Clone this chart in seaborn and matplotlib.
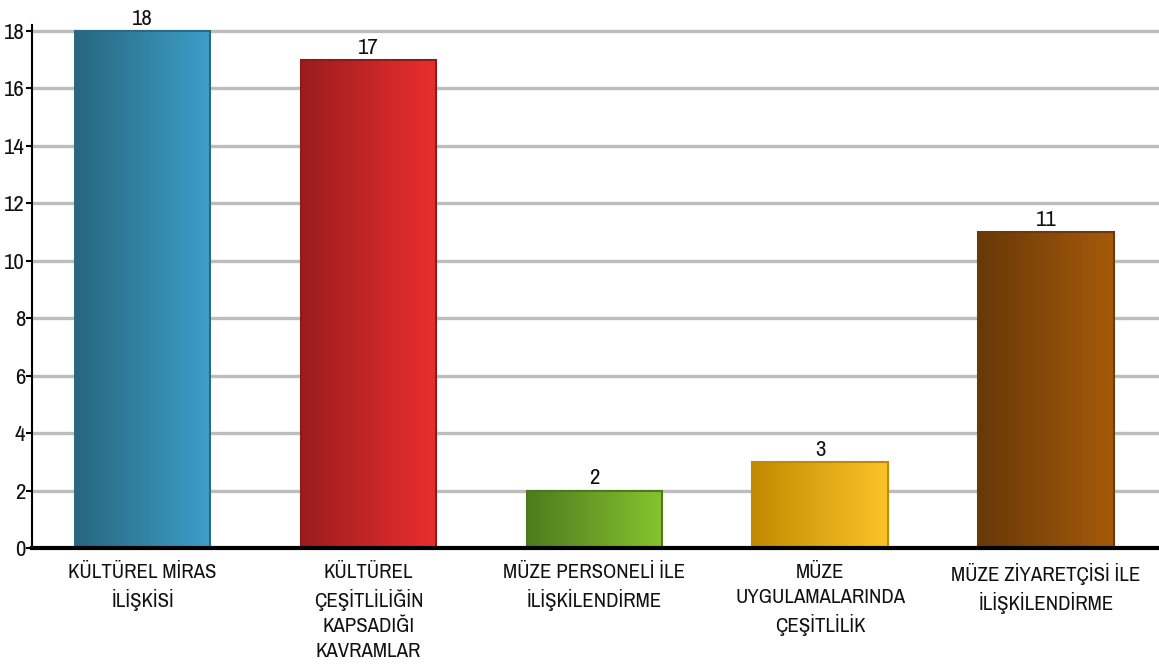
import numpy as np
import pandas as pd
import matplotlib
matplotlib.use("Agg")
import matplotlib.pyplot as plt
from matplotlib import font_manager
from matplotlib.colors import LinearSegmentedColormap
import seaborn as sns

categories = [
    "KÜLTÜREL MİRAS\nİLİŞKİSİ",
    "KÜLTÜREL\nÇEŞİTLİLİĞİN\nKAPSADIĞI\nKAVRAMLAR",
    "MÜZE PERSONELİ İLE\nİLİŞKİLENDİRME",
    "MÜZE\nUYGULAMALARINDA\nÇEŞİTLİLİK",
    "MÜZE ZİYARETÇİSİ İLE\nİLİŞKİLENDİRME",
]
values = [18, 17, 2, 3, 11]
yticks = [0, 2, 4, 6, 8, 10, 12, 14, 16, 18]

# left-to-right gradient colours for each bar, plus its outline
grad_left = ["#28667e", "#9c1c1e", "#4c7c1e", "#c28a02", "#683808"]
grad_right = ["#3c9fca", "#ea2f2f", "#86c42e", "#fbc427", "#a65a0a"]
edges = ["#2a6a82", "#8e1a1a", "#4a7a1c", "#c08a06", "#6a3a0a"]

sns.set_theme(style="white")

# prefer a narrow sans face when one is installed
narrow = [f.name for f in font_manager.fontManager.ttflist
          if ("Narrow" in f.name or "Condensed" in f.name) and f.style == "normal"]
families = sorted(set(narrow)) + ["Liberation Sans", "DejaVu Sans"]
plt.rcParams["font.family"] = families

df = pd.DataFrame({"category": categories, "value": values})

fig = plt.figure(figsize=(11.59, 6.71), dpi=100)
ax = fig.add_axes([0.0276, 0.1833, 0.9724, 0.779])

sns.barplot(data=df, x="category", y="value", ax=ax, width=0.6,
            color="white", saturation=1, zorder=3)

ax.set_ylim(0, 18.2)
ax.set_xlim(-0.49, 4.5)

for i, patch in enumerate(ax.patches):
    x0, y0 = patch.get_x(), patch.get_y()
    w, h = patch.get_width(), patch.get_height()
    cmap = LinearSegmentedColormap.from_list(f"g{i}", [grad_left[i], grad_right[i]])
    grad = np.linspace(0, 1, 256).reshape(1, -1)
    im = ax.imshow(grad, cmap=cmap, aspect="auto", extent=(x0, x0 + w, y0, y0 + h),
                   zorder=3, interpolation="bilinear")
    im.set_clip_path(patch)
    patch.set_facecolor("none")
    patch.set_edgecolor(edges[i])
    patch.set_linewidth(1.5)
    patch.set_zorder(4)
    ax.annotate(f"{values[i]}", (x0 + w / 2, y0 + h), xytext=(0, 1.5),
                textcoords="offset points", ha="center", va="bottom",
                fontsize=16.5, color="#111111")

ax.set_yticks(yticks)
ax.set_yticklabels([str(t) for t in yticks], fontsize=16.5)
ax.yaxis.grid(True, color="#bdbdbd", linewidth=2.4, zorder=0)
ax.set_axisbelow(True)
ax.tick_params(axis="y", which="major", left=True, length=4, width=1.5,
               color="black", pad=1, labelcolor="#111111")
ax.tick_params(axis="x", bottom=False, pad=5, labelsize=15 if narrow else 13.5,
               labelcolor="#111111")
for lbl in ax.get_xticklabels():
    lbl.set_linespacing(1.4)

ax.set_xlabel("")
ax.set_ylabel("")
for side in ["top", "right"]:
    ax.spines[side].set_visible(False)
ax.spines["left"].set_color("black")
ax.spines["left"].set_linewidth(1.5)
ax.spines["bottom"].set_color("black")
ax.spines["bottom"].set_linewidth(3)
ax.spines["bottom"].set_zorder(5)

fig.savefig("out.png", dpi=100)
